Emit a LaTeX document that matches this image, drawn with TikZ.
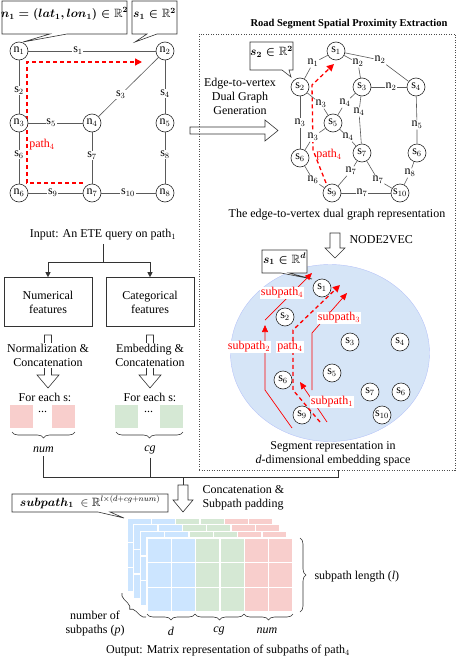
\documentclass[tikz,border=0pt]{standalone}
\usepackage{amsmath,amssymb}
\usepackage{fontspec}
\setmainfont{Liberation Serif}
\usepackage{tikz}
\usetikzlibrary{calc,arrows.meta,positioning,shapes.geometric,decorations.pathreplacing}
\definecolor{pathred}{HTML}{FF0000}
\definecolor{roadgray}{HTML}{5A5A5A}
\definecolor{embblue}{HTML}{D6E5F7}
\definecolor{cellblue}{HTML}{CCE5FF}
\definecolor{cellgreen}{HTML}{D5E8D4}
\definecolor{cellred}{HTML}{F8CECC}

\tikzset{
  vtx/.style={circle, draw=black!85, fill=white, inner sep=0pt, minimum size=18pt, line width=0.6pt},
  elab/.style={fill=white, inner sep=0.8pt},
  road/.style={draw=roadgray, line width=0.6pt},
  conn/.style={draw=black!80, line width=0.6pt},
  callline/.style={draw=black!80, fill=white, line width=0.6pt, line join=miter},
  hollow/.style={draw=black!80, line width=0.6pt, line join=miter},
  proxbox/.style={draw=black!70, dash pattern=on 1pt off 1.5pt, line width=0.6pt,
    inner sep=0pt, minimum width=256pt, minimum height=436pt},
  featbox/.style={draw=black!80, line width=0.6pt, minimum width=88pt, minimum height=49pt, align=center},
  sq/.style={minimum size=23pt, inner sep=0pt},
  redtrail/.style={pathred, line width=1.3pt, dash pattern=on 4pt off 3pt, -{Triangle[length=7pt,width=7pt]}},
  redsub/.style={pathred, line width=0.7pt, -{Triangle[length=7pt,width=6pt]}},
  redlab/.style={text=pathred, fill=white, inner sep=0.8pt},
  brc/.style={decorate, decoration={brace, amplitude=6pt}, draw=black!80, line width=0.6pt},
}

\begin{document}
\begin{tikzpicture}[x=1pt, y=-1pt, font=\fontsize{12}{14}\selectfont]
  \useasboundingbox (0,0) rectangle (463,664);

  % Road network with callouts
  \draw[callline] (50,34) -- (2,34) -- (2,1) -- (127,1) -- (127,34) -- (67,34) -- (23,42) -- cycle;
  \node (cn1) at (64.5,14) {$\boldsymbol{n_1=(lat_1,lon_1)\in\mathbb{R}^2}$};
  \draw[callline] (147,34) -- (132,34) -- (132,1) -- (177,1) -- (177,34) -- (157,34) -- (135,42) -- cycle;
  \node (cs1) at (154.5,14) {$\boldsymbol{s_1\in\mathbb{R}^2}$};

  \draw[redtrail] (83,183) -- (27,183) -- (27,62) -- (142,62);
  \node[text=pathred] (p4road) at (42,145) {path$_4$};

  \node[vtx] (n1) at (19,51) {n$_1$};
  \node[vtx] (n2) at (165,51) {n$_2$};
  \node[vtx] (n3) at (19,123) {n$_3$};
  \node[vtx] (n4) at (92,123) {n$_4$};
  \node[vtx] (n5) at (165,123) {n$_5$};
  \node[vtx] (n6) at (19,193) {n$_6$};
  \node[vtx] (n7) at (92,193) {n$_7$};
  \node[vtx] (n8) at (165,193) {n$_8$};
  \draw[road] (n1) -- node[elab,pos=.39] {s$_1$} (n2);
  \draw[road] (n1) -- node[elab,pos=.57] {s$_2$} (n3);
  \draw[road] (n2) -- node[elab,pos=.63] {s$_3$} (n4);
  \draw[road] (n2) -- node[elab,pos=.62] {s$_4$} (n5);
  \draw[road] (n3) -- node[elab,pos=.42] {s$_5$} (n4);
  \draw[road] (n3) -- node[elab,pos=.43] {s$_6$} (n6);
  \draw[road] (n4) -- node[elab,pos=.46] {s$_7$} (n7);
  \draw[road] (n5) -- node[elab,pos=.43] {s$_8$} (n8);
  \draw[road] (n6) -- node[elab,pos=.45] {s$_9$} (n7);
  \draw[road] (n7) -- node[elab,pos=.49] {s$_{10}$} (n8);

  % Feature branch
  \node (inp) at (103,235) {Input: An ETE query on path$_1$};
  \node[featbox] (numf) at (48,302) {Numerical\\features};
  \node[featbox] (catf) at (150,302) {Categorical\\features};
  \coordinate (split) at (103,262);
  \draw[conn] (inp.south) -- (split);
  \draw[conn, -{Triangle[length=5pt,width=5pt]}] (split) -| (numf.north);
  \draw[conn, -{Triangle[length=5pt,width=5pt]}] (split) -| (catf.north);

  \draw[hollow] (44.5,335) -- (51.5,335) -- (51.5,375) -- (59,375) -- (48,388) -- (37,375) -- (44.5,375) -- cycle;
  \draw[hollow] (146.5,335) -- (153.5,335) -- (153.5,375) -- (161,375) -- (150,388) -- (139,375) -- (146.5,375) -- cycle;
  \node[fill=white, inner sep=1pt, align=center] (norm) at (48,355.5) {Normalization \&\\Concatenation};
  \node[fill=white, inner sep=1pt, align=center] (embd) at (150,355.5) {Embedding \&\\Concatenation};

  \node (fen) at (45,397) {For each s:};
  \node (fec) at (150,397) {For each s:};
  \node[sq, fill=cellred] (pk1) at (21.5,416.5) {};
  \node[sq, fill=cellred] (pk2) at (63.5,416.5) {};
  \node (pkdots) at (42.5,412) {...};
  \node[sq, fill=cellgreen] (gr1) at (126,416.5) {};
  \node[sq, fill=cellgreen] (gr2) at (171.5,416.5) {};
  \node (grdots) at (148.5,412) {...};
  \draw[brc] (75,432) -- (12,432);
  \draw[brc] (183,432) -- (116,432);
  \node (numlab) at (43.5,450) {\textit{num}};
  \node (cglab) at (150,450) {\textit{cg}};

  % Spatial proximity box
  \node[font=\fontsize{10.5}{12}\selectfont\bfseries] (title) at (349,24) {Road Segment Spatial Proximity Extraction};
  \node[proxbox] (prox) at (327,252) {};
  \node[align=center] (e2v) at (240,96) {Edge-to-vertex\\Dual Graph\\Generation};
  \draw[hollow] (190,127) -- (265,127) -- (265,120) -- (278,130.5) -- (265,141) -- (265,134) -- (190,134) -- cycle;

  \draw[callline] (282,70) -- (250,70) -- (250,42) -- (293,42) -- (293,70) -- (289,70) -- (291,77) -- cycle;
  \node (cs2) at (271.5,52) {$\boldsymbol{s_2\in\mathbb{R}^2}$};

  \draw[redtrail] (326,183) -- (313,150) -- (312,85) -- (334,64);
  \node[text=pathred] (p4dual) at (329,155) {path$_4$};

  \node[vtx] (ds1) at (336,51) {s$_1$};
  \node[vtx] (ds2) at (300,87) {s$_2$};
  \node[vtx] (ds3) at (362,87) {s$_3$};
  \node[vtx] (ds4) at (416,87) {s$_4$};
  \node[vtx] (ds5) at (333,123) {s$_5$};
  \node[vtx] (ds6) at (300,158) {s$_6$};
  \node[vtx] (ds7) at (362,153) {s$_7$};
  \node[vtx] (ds6b) at (417,153) {s$_6$};
  \node[vtx] (ds9) at (332,193) {s$_9$};
  \node[vtx] (ds10) at (400,193) {s$_{10}$};

  \node[elab] (la) at (313,63) {n$_1$};
  \node[elab] (lb) at (358,63) {n$_2$};
  \node[elab] (lc) at (380,60) {n$_2$};
  \node[elab] (ld) at (391,87) {n$_2$};
  \node[elab] (le) at (300,123) {n$_3$};
  \node[elab] (lf) at (321,104) {n$_3$};
  \node[elab] (lg) at (313,137) {n$_3$};
  \node[elab] (lh) at (345,103) {n$_4$};
  \node[elab] (li) at (348,137) {n$_4$};
  \node[elab] (lj) at (359,112) {n$_4$};
  \node[elab] (lk) at (417,125) {n$_5$};
  \node[elab] (ll) at (313,180) {n$_6$};
  \node[elab] (lm) at (351,171) {n$_7$};
  \node[elab] (ln) at (378,180) {n$_7$};
  \node[elab] (lo) at (362,193) {n$_7$};
  \node[elab] (lp) at (410,173) {n$_8$};
  \draw[road] (ds2) -- (la) -- (ds1);
  \draw[road] (ds1) -- (lb) -- (ds3);
  \draw[road] (ds1) -- (lc) -- (ds4);
  \draw[road] (ds3) -- (ld) -- (ds4);
  \draw[road] (ds2) -- (le) -- (ds6);
  \draw[road] (ds2) -- (lf) -- (ds5);
  \draw[road] (ds6) -- (lg) -- (ds5);
  \draw[road] (ds3) -- (lh) -- (ds5);
  \draw[road] (ds5) -- (li) -- (ds7);
  \draw[road] (ds3) -- (lj) -- (ds7);
  \draw[road] (ds4) -- (lk) -- (ds6b);
  \draw[road] (ds6) -- (ll) -- (ds9);
  \draw[road] (ds7) -- (lm) -- (ds9);
  \draw[road] (ds7) -- (ln) -- (ds10);
  \draw[road] (ds9) -- (lo) -- (ds10);
  \draw[road] (ds6b) -- (lp) -- (ds10);
  \node (dualcap) at (337,215) {The edge-to-vertex dual graph representation};

  % NODE2VEC embedding space
  \draw[hollow] (330,233) -- (340,233) -- (340,248) -- (345,248) -- (335,258) -- (325,248) -- (330,248) -- cycle;
  \node[anchor=west] (n2v) at (346,240) {NODE2VEC};
  \node[ellipse, fill=embblue, draw=embblue!85!blue, minimum width=199pt, minimum height=177pt, inner sep=0pt] (emb) at (330,353) {};
  \draw[callline] (281,273) -- (262,273) -- (262,250) -- (307,250) -- (307,273) -- (289,273) -- (312,279) -- cycle;
  \node (cs1d) at (284.5,259) {$\boldsymbol{s_1\in\mathbb{R}^d}$};

  \node[vtx] (es1) at (322,288) {s$_1$};
  \node[vtx] (es2) at (285,317) {s$_2$};
  \node[vtx] (es3) at (350,342) {s$_3$};
  \node[vtx] (es4) at (400,342) {s$_4$};
  \node[vtx] (es5) at (332,373) {s$_5$};
  \node[vtx] (es6) at (283,380) {s$_6$};
  \node[vtx] (es7) at (370,392) {s$_7$};
  \node[vtx] (es6b) at (401,392) {s$_6$};
  \node[vtx] (es9) at (302,415) {s$_9$};
  \node[vtx] (es10) at (382,415) {s$_{10}$};

  \draw[redsub] (292,428) -- (265,390) -- (265,325);
  \draw[redsub] (265,320) -- (312,273);
  \draw[redtrail] (320,422) -- (293,390) -- (293,330) -- (340,285);
  \draw[redsub] (312,390) -- (312,333) -- (347,293);
  \draw[redsub] (327,422) -- (300,382);
  \node[redlab] (sp2) at (249,347) {subpath$_2$};
  \node[redlab] (sp4) at (282,293) {subpath$_4$};
  \node[redlab] (pp4) at (290,347) {path$_4$};
  \node[redlab] (sp3) at (339,318) {subpath$_3$};
  \node[redlab] (sp1) at (332,402) {subpath$_1$};
  \node[align=center] (embcap) at (333,454) {Segment representation in\\\textit{d}-dimensional embedding space};

  % Concatenation into matrices
  \coordinate (join) at (183,477);
  \coordinate (boxout) at ($(prox.south)+(11,0)$);
  \draw[conn] (numlab.south) |- (join);
  \draw[conn] (cglab.south) |- (join);
  \draw[conn] (boxout) |- (join);
  \draw[conn] (join) -- ++(0,8);
  \draw[hollow] (178,485) -- (188,485) -- (188,500) -- (193,500) -- (183,512) -- (173,500) -- (178,500) -- cycle;
  \node[anchor=west, align=left] (padtxt) at (199,498) {Concatenation \&\\Subpath padding};

  \draw[callline] (98,512) -- (12,512) -- (12,494) -- (168,494) -- (168,512) -- (110,512) -- (124,518) -- cycle;
  \node (csub) at (90,502) {$\boldsymbol{subpath_1}\;\in\mathbb{R}^{l\times(d+cg+num)}$};

  \foreach \k in {3,2,1,0}{
    \foreach \c/\col in {0/cellblue,1/cellblue,2/cellgreen,3/cellgreen,4/cellred,5/cellred}{
      \foreach \r in {0,1,2}{
        \fill[\col, draw=white, line width=1.2pt] ({147-6.67*\k+24.33*\c},{538-6.67*\k+24.67*\r}) rectangle ++(24.33,24.67);
      }
    }
  }
  \draw[brc] (300,538) -- (300,612);
  \node[anchor=west] (lenlab) at (311,577) {subpath length (\textit{l})};
  \draw[brc] (195,614) -- (147,614);
  \draw[brc] (244,614) -- (195,614);
  \draw[brc] (293,614) -- (244,614);
  \node (dlab) at (171,631) {\textit{d}};
  \node (cglab2) at (219,631) {\textit{cg}};
  \node (numlab2) at (267,631) {\textit{num}};
  \draw[brc] (146,617) -- (122,593);
  \node[align=center] (plab) at (95,624) {number of\\subpaths (\textit{p})};
  \node (out) at (228,651) {Output: Matrix representation of subpaths of path$_4$};
\end{tikzpicture}
\end{document}
